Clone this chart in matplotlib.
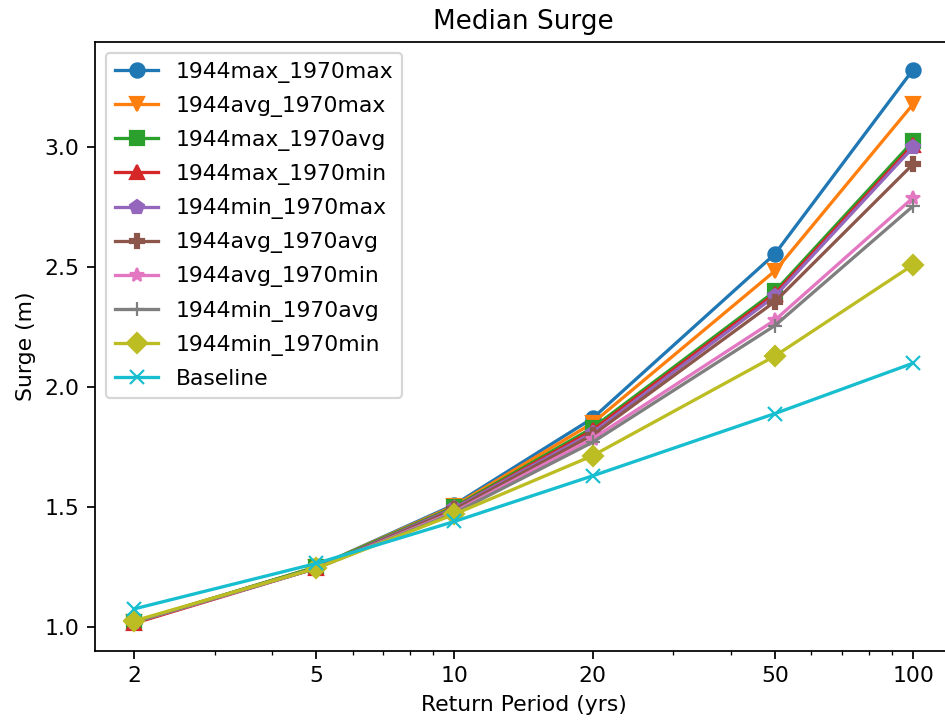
import matplotlib
matplotlib.use('Agg')
import matplotlib.pyplot as plt
from matplotlib.ticker import ScalarFormatter, NullFormatter

periods = [2, 5, 10, 20, 50, 100]

labels = ['1944max_1970max', '1944avg_1970max', '1944max_1970avg',
          '1944max_1970min', '1944min_1970max', '1944avg_1970avg',
          '1944avg_1970min', '1944min_1970avg', '1944min_1970min',
          'Baseline']
markers = ['o', 'v', 's', '^', 'p', 'P', '*', '+', 'D', 'x']

max_max = [1.02, 1.25, 1.51, 1.87, 2.556, 3.324]
avg_max = [1.02, 1.25, 1.505, 1.85, 2.485, 3.18]
max_avg = [1.02, 1.25, 1.50, 1.83, 2.40, 3.025]
max_min = [1.015, 1.245, 1.495, 1.82, 2.39, 3.01]
min_max = [1.02, 1.245, 1.495, 1.81, 2.38, 3.00]
avg_avg = [1.02, 1.245, 1.49, 1.80, 2.357, 2.93]
avg_min = [1.02, 1.245, 1.48, 1.785, 2.28, 2.79]
min_avg = [1.02, 1.245, 1.475, 1.77, 2.257, 2.755]
min_min = [1.025, 1.245, 1.47, 1.714, 2.13, 2.51]
baseline = [1.075, 1.265, 1.44, 1.63, 1.89, 2.10]

series = [max_max, avg_max, max_avg, max_min, min_max,
          avg_avg, avg_min, min_avg, min_min, baseline]

DPI = 157.5
fig = plt.figure(figsize=(945 / DPI, 722 / DPI), dpi=DPI)
# axes run a little past the right edge, as in the original crop
ax = fig.add_axes([0.1005, 0.0983, 0.9069, 0.8435])

for vals, lab, m in zip(series, labels, markers):
    ax.plot(periods, vals, marker=m, markersize=6.5, label=lab)

ax.set_xscale('log')
ax.set_xticks(periods)
ax.xaxis.set_major_formatter(ScalarFormatter())
ax.xaxis.set_minor_formatter(NullFormatter())
ax.set_yticks([1.0, 1.5, 2.0, 2.5, 3.0])

ax.set_title('Median Surge')
ax.set_xlabel('Return Period (yrs)')
ax.set_ylabel('Surge (m)')
ax.legend(loc='upper left', labelspacing=0.6)

fig.savefig('out.png', dpi=DPI)
